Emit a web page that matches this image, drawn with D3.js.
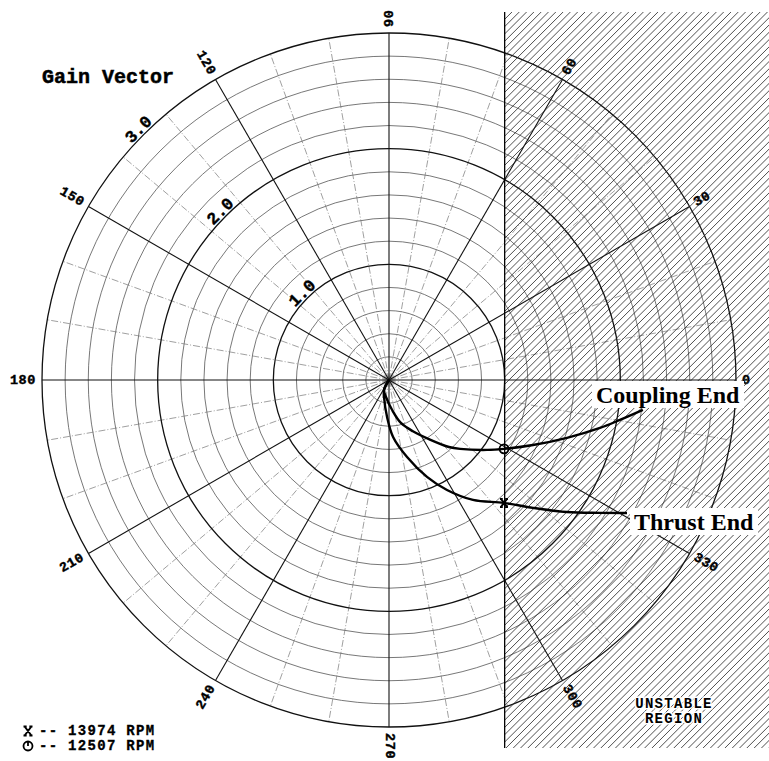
<!DOCTYPE html>
<html>
<head>
<meta charset="utf-8">
<script src="https://cdn.jsdelivr.net/npm/d3@7/dist/d3.min.js"></script>
<style>
  html, body { margin: 0; padding: 0; background: #fff; }
  svg { display: block; }
</style>
</head>
<body>
<svg id="chart" width="769" height="761"></svg>
<script>
// ---- data ----
const angleTicks = [0, 30, 60, 90, 120, 150, 180, 210, 240, 270, 300, 330];
const minorAngles = d3.range(0, 360, 10).filter(a => a % 30 !== 0);
const radiusTicks = [1.0, 2.0, 3.0];
const radiusTickLabels = ["1.0", "2.0", "3.0"];
const minorRadii = [0.2, 0.4, 0.6, 0.8, 1.2, 1.4, 1.6, 1.8, 2.2, 2.4, 2.6, 2.8];
const unstableRe = 1.0;

// Thrust End response (magnitude, phase deg)
const thrustMag   = [0, 0.096, 0.153, 0.320, 0.494, 0.684, 0.900, 1.075, 1.266, 1.455, 1.665, 1.915, 2.156, 2.357];
const thrustPhase = [0, 243.4, 253.7, 267.0, 274.1, 283.2, 291.4, 297.8, 305.0, 313.1, 318.4, 323.4, 327.8, 330.8];
// Coupling End response
const couplingMag   = [0, 0.096, 0.149, 0.261, 0.385, 0.489, 0.625, 0.777, 0.856, 1.041, 1.159, 1.366, 1.618, 1.871, 2.026, 2.210];
const couplingPhase = [0, 243.4, 260.0, 276.0, 285.5, 295.0, 304.5, 311.8, 315.9, 324.5, 329.1, 335.7, 342.0, 347.2, 350.2, 353.3];

// Marked speeds
const markerLabels = ["-- 13974 RPM", "-- 12507 RPM"];
const thrustMarker = [1.455, 313.1];
const couplingMarker = [1.159, 329.1];
const regionLabel = ["UNSTABLE", "REGION"];

// ---- layout ----
const svg = d3.select("#chart");
const cx = 389, cy = 380;
const r = d3.scaleLinear().domain([0, 3]).range([0, 347]);
const R = r(3);
const rad = d => d * Math.PI / 180;
const px = (m, a) => cx + r(m) * Math.cos(rad(a));
const py = (m, a) => cy - r(m) * Math.sin(rad(a));
const mono = "'Liberation Mono', 'DejaVu Sans Mono', monospace";
const serif = "'Liberation Serif', 'Times New Roman', serif";

const grid = svg.append("g");

// minor circles
grid.selectAll("circle.minor").data(minorRadii).join("circle")
  .attr("cx", cx).attr("cy", cy).attr("r", d => r(d))
  .attr("fill", "none").attr("stroke", "#555").attr("stroke-width", 0.8);

// minor radial lines
grid.selectAll("line.minor").data(minorAngles).join("line")
  .attr("x1", cx).attr("y1", cy)
  .attr("x2", d => px(3, d)).attr("y2", d => py(3, d))
  .attr("stroke", "#777").attr("stroke-width", 0.7)
  .attr("stroke-dasharray", "7,2,1,2");

// major radial lines
grid.selectAll("line.major").data(angleTicks).join("line")
  .attr("x1", cx).attr("y1", cy)
  .attr("x2", d => px(3, d)).attr("y2", d => py(3, d))
  .attr("stroke", "#111").attr("stroke-width", 1.1);

// major circles
grid.selectAll("circle.major").data(radiusTicks).join("circle")
  .attr("cx", cx).attr("cy", cy).attr("r", d => r(d))
  .attr("fill", "none").attr("stroke", "#111").attr("stroke-width", 1.3);

// angle labels
svg.append("g").selectAll("text").data(angleTicks).join("text")
  .attr("transform", d => {
    const x = cx + (R + 6) * Math.cos(rad(d));
    const y = cy - (R + 6) * Math.sin(rad(d));
    const flip = d > 90 && d < 270;
    return `translate(${x},${y}) rotate(${flip ? 180 - d : -d})`;
  })
  .attr("text-anchor", d => (d > 90 && d < 270) ? "end" : "start")
  .attr("dominant-baseline", "central")
  .attr("font-family", mono).attr("font-weight", "bold").attr("font-size", 13.5)
  .attr("letter-spacing", 0.6)
  .attr("stroke", "#000").attr("stroke-width", 0.4)
  .text(d => d);

// radius labels
svg.append("g").selectAll("text").data(radiusTicks).join("text")
  .attr("transform", d => `translate(${cx + (r(d) + 2) * Math.cos(rad(135))},${cy - (r(d) + 2) * Math.sin(rad(135))}) rotate(-45)`)
  .attr("text-anchor", "middle")
  .attr("font-family", mono).attr("font-weight", "bold").attr("font-size", 17)
  .attr("stroke", "#000").attr("stroke-width", 0.4)
  .text((d, i) => radiusTickLabels[i]);

// unstable region hatch
const x0 = cx + r(unstableRe);
const yTop = 12, yBot = 748, xRight = 769;
svg.append("clipPath").attr("id", "hclip").append("rect")
  .attr("x", x0).attr("y", yTop).attr("width", xRight - x0 + 5).attr("height", yBot - yTop);
const hh = yBot - yTop;
svg.append("g").attr("clip-path", "url(#hclip)")
  .selectAll("line").data(d3.range(x0 - hh, xRight + 10, 7.3)).join("line")
  .attr("x1", d => d).attr("y1", yBot)
  .attr("x2", d => d + hh).attr("y2", yTop)
  .attr("stroke", "#222").attr("stroke-width", 0.8);
svg.append("line").attr("x1", x0).attr("x2", x0).attr("y1", yTop).attr("y2", yBot)
  .attr("stroke", "#000").attr("stroke-width", 1.3);

// curves
const line = d3.line().x(d => px(d[0], d[1])).y(d => py(d[0], d[1])).curve(d3.curveCatmullRom.alpha(0.5));
const thrust = thrustMag.map((m, i) => [m, thrustPhase[i]]);
const coupling = couplingMag.map((m, i) => [m, couplingPhase[i]]);
svg.append("path").attr("d", line(thrust)).attr("fill", "none").attr("stroke", "#000").attr("stroke-width", 2.4);
svg.append("path").attr("d", line(coupling)).attr("fill", "none").attr("stroke", "#000").attr("stroke-width", 2.4);

// marker symbols
function xSym(g, s) {
  g.append("path")
    .attr("d", `M${-s},${-s}H${-s * 0.3}M${s * 0.3},${-s}H${s}M${-s},${s}H${-s * 0.3}M${s * 0.3},${s}H${s}M${-s * 0.75},${-s}L${s * 0.75},${s}M${s * 0.75},${-s}L${-s * 0.75},${s}`)
    .attr("fill", "none").attr("stroke", "#000").attr("stroke-width", 2);
}
function oSym(g, s, tick) {
  g.append("circle").attr("r", s).attr("fill", "none").attr("stroke", "#000").attr("stroke-width", 1.8);
  if (tick) g.append("line").attr("x1", 0).attr("x2", 0).attr("y1", -s).attr("y2", 0).attr("stroke", "#000").attr("stroke-width", 1.8);
}
xSym(svg.append("g").attr("transform", `translate(${px(...thrustMarker)},${py(...thrustMarker)})`), 4);
oSym(svg.append("g").attr("transform", `translate(${px(...couplingMarker)},${py(...couplingMarker)})`), 4.5, false);

// curve labels with white boxes
function boxLabel(txt, x, y) {
  const g = svg.append("g");
  const t = g.append("text").attr("x", x).attr("y", y)
    .attr("font-family", serif).attr("font-weight", "bold").attr("font-size", 24)
    .attr("fill", "#000").text(txt);
  const b = t.node().getBBox();
  g.insert("rect", "text").attr("x", b.x - 4).attr("y", b.y - 1)
    .attr("width", b.width + 8).attr("height", b.height + 1).attr("fill", "#fff");
}
boxLabel("Coupling End", 596, 403);
boxLabel("Thrust End", 634, 530);

// unstable region label
svg.append("g").selectAll("text").data(regionLabel).join("text")
  .attr("x", 674).attr("y", (d, i) => 708 + i * 15).attr("text-anchor", "middle")
  .attr("font-family", mono).attr("font-weight", "bold").attr("font-size", 14)
  .attr("letter-spacing", 1.3)
  .attr("fill", "#000")
  .attr("stroke", "#fff").attr("stroke-width", 3).attr("paint-order", "stroke")
  .text(d => d);

// title
svg.append("text").attr("x", 42).attr("y", 83)
  .attr("font-family", mono).attr("font-weight", "bold").attr("font-size", 20)
  .attr("stroke", "#000").attr("stroke-width", 0.5)
  .text("Gain Vector");

// legend
const leg = svg.append("g");
xSym(leg.append("g").attr("transform", "translate(28,731)"), 4.5);
oSym(leg.append("g").attr("transform", "translate(28,746)"), 4.5, true);
leg.selectAll("text").data(markerLabels).join("text")
  .attr("x", 39).attr("y", (d, i) => 735 + i * 15)
  .attr("font-family", mono).attr("font-weight", "bold").attr("font-size", 14)
  .attr("letter-spacing", 1.3)
  .attr("stroke", "#000").attr("stroke-width", 0.3)
  .attr("xml:space", "preserve")
  .text(d => d);
</script>
</body>
</html>
